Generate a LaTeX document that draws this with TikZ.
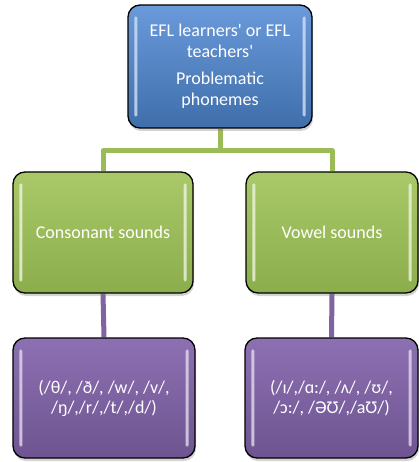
\documentclass[tikz,border=0pt]{standalone}
\usepackage{fontspec}
\setmainfont{Carlito}
\usetikzlibrary{shadows,backgrounds}
\definecolor{blueA}{HTML}{6A9ADA}
\definecolor{blueB}{HTML}{3F6EAB}
\definecolor{greenA}{HTML}{A9C96A}
\definecolor{greenB}{HTML}{8CAD4B}
\definecolor{purpleA}{HTML}{8D70B3}
\definecolor{purpleB}{HTML}{6E5490}
\definecolor{greenLine}{HTML}{9BBB59}
\definecolor{purpleLine}{HTML}{8064A2}
\newcommand\glossbars[2]{%
  \fill[#2,opacity=0.8,rounded corners=1.5pt] ([xshift=7pt,yshift=-12pt]#1.north west) rectangle ([xshift=10pt,yshift=12pt]#1.south west);
  \fill[#2,opacity=0.8,rounded corners=1.5pt] ([xshift=-10pt,yshift=-12pt]#1.north east) rectangle ([xshift=-7pt,yshift=12pt]#1.south east);
}
\begin{document}
\begin{tikzpicture}[x=1pt,y=1pt,
  boxbase/.style={rectangle,rounded corners=12pt,draw=black,line width=1.3pt,text=white,
    align=center,font=\fontsize{18}{21}\selectfont,inner sep=0pt,
    drop shadow={shadow xshift=1pt,shadow yshift=-3pt,opacity=0.35,rounded corners=12pt}},
  bluebox/.style={boxbase,top color=blueA,bottom color=blueB},
  greenbox/.style={boxbase,top color=greenA,bottom color=greenB},
  purplebox/.style={boxbase,top color=purpleA,bottom color=purpleB,font=\fontsize{18}{20}\selectfont},
  gline/.style={greenLine,line width=5pt},
  pline/.style={purpleLine,line width=5pt}]
\useasboundingbox (0,0) rectangle (419,-462);
\node[bluebox,minimum width=184pt,minimum height=123pt] (top) at (220,-66.5)
  {EFL learners\textquotesingle{} or EFL\\teachers\textquotesingle\\[6pt]Problematic\\phonemes};
\node[greenbox,minimum width=180pt,minimum height=121pt] (cons) at (103,-232.5) {Consonant sounds};
\node[greenbox,minimum width=172pt,minimum height=121pt] (vow) at (332,-232.5) {Vowel sounds};
\node[purplebox,minimum width=182pt,minimum height=120pt] (cph) at (104,-398)
  {(/θ/, /ð/, /w/, /v/,\\/ŋ/,/r/,/t/,/d/)};
\node[purplebox,minimum width=173pt,minimum height=120pt] (vph) at (331.5,-398)
  {(/ɪ/,/ɑ:/, /ʌ/, /ʊ/,\\/ɔ:/, /ƏƱ/,/aƱ/)};
\glossbars{top}{blueA!30!white}
\glossbars{cons}{greenA!20!white}
\glossbars{vow}{greenA!20!white}
\glossbars{cph}{purpleA!25!white}
\glossbars{vph}{purpleA!25!white}
\begin{scope}[on background layer]
  \coordinate (split) at ([yshift=-22pt]top.south);
  \draw[gline] (top.south) -- (split);
  \draw[gline,line join=round] (cons.north) |- (split) -| (vow.north);
  \draw[pline] (cons.south) -- (cph.north);
  \draw[pline] (vow.south) -- (vph.north);
\end{scope}
\end{tikzpicture}
\end{document}
